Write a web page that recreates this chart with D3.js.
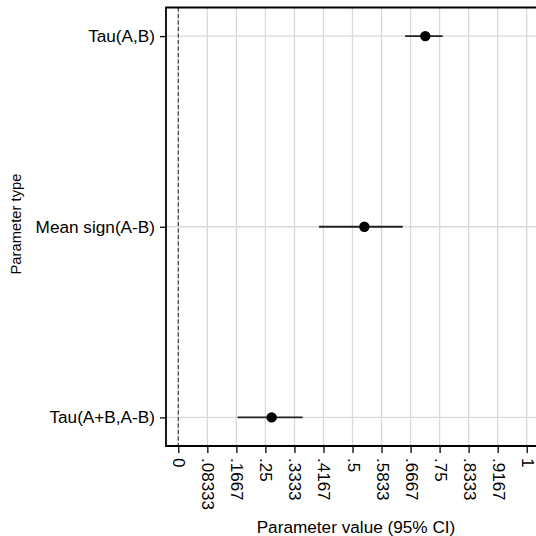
<!DOCTYPE html>
<html>
<head>
<meta charset="utf-8">
<script src="https://cdn.jsdelivr.net/npm/d3@7"></script>
<style>
  html, body { margin: 0; padding: 0; background: #fff; }
  svg { display: block; font-family: "Liberation Sans", Arial, sans-serif; }
</style>
</head>
<body>
<svg id="chart" width="536" height="536"></svg>
<script>
const categories = ["Tau(A,B)", "Mean sign(A-B)", "Tau(A+B,A-B)"];
const estimates = [0.709, 0.534, 0.268];
const lowerCI = [0.651, 0.404, 0.170];
const upperCI = [0.759, 0.644, 0.357];
const xTickValues = [0, 1/12, 2/12, 3/12, 4/12, 5/12, 6/12, 7/12, 8/12, 9/12, 10/12, 11/12, 1];
const xTickLabels = ["0", ".08333", ".1667", ".25", ".3333", ".4167", ".5", ".5833", ".6667", ".75", ".8333", ".9167", "1"];

const svg = d3.select("#chart");
const plot = { left: 166, right: 540, top: 7.5, bottom: 446 };

const x = d3.scaleLinear().domain([0, 1]).range([178.3, 526.7]);
const y = d3.scalePoint().domain(categories).range([plot.top, plot.bottom]).padding(0.15);

// gridlines
svg.append("g").selectAll("line").data(xTickValues).join("line")
  .attr("x1", d => x(d)).attr("x2", d => x(d))
  .attr("y1", plot.top).attr("y2", plot.bottom)
  .attr("stroke", "#d9d9d9").attr("stroke-width", 1.3);
svg.append("g").selectAll("line").data(categories).join("line")
  .attr("x1", plot.left).attr("x2", plot.right)
  .attr("y1", d => y(d)).attr("y2", d => y(d))
  .attr("stroke", "#d9d9d9").attr("stroke-width", 1.3);

// reference line at 0
svg.append("line")
  .attr("x1", x(0)).attr("x2", x(0))
  .attr("y1", plot.top).attr("y2", plot.bottom)
  .attr("stroke", "#333").attr("stroke-width", 1.1)
  .attr("stroke-dasharray", "4,2.5");

// frame (top, left, bottom)
svg.append("path")
  .attr("d", `M${plot.right},${plot.top}H${plot.left}V${plot.bottom}H${plot.right}`)
  .attr("fill", "none").attr("stroke", "#000").attr("stroke-width", 1.8);

// x axis
const xAxis = d3.axisBottom(x).tickValues(xTickValues)
  .tickFormat((d, i) => xTickLabels[i]).tickSize(7).tickPadding(4);
const gx = svg.append("g").attr("transform", `translate(0,${plot.bottom})`).call(xAxis);
gx.select(".domain").remove();
gx.selectAll(".tick line").attr("stroke", "#000").attr("stroke-width", 1.3);
gx.selectAll(".tick text")
  .attr("font-size", 17).attr("fill", "#000")
  .attr("text-anchor", "start")
  .attr("dy", null)
  .attr("dominant-baseline", "central")
  .attr("transform", "translate(0,12) rotate(90)")
  .attr("x", 0).attr("y", 0);

// y axis
const yAxis = d3.axisLeft(y).tickSize(6).tickPadding(5);
const gy = svg.append("g").attr("transform", `translate(${plot.left},0)`).call(yAxis);
gy.select(".domain").remove();
gy.selectAll(".tick line").attr("stroke", "#000").attr("stroke-width", 1.3);
gy.selectAll(".tick text").attr("font-size", 17.2).attr("fill", "#000");

// CI lines
const rows = categories.map((c, i) => ({ c, est: estimates[i], lo: lowerCI[i], hi: upperCI[i] }));
svg.append("g").selectAll("line").data(rows).join("line")
  .attr("x1", d => x(d.lo)).attr("x2", d => x(d.hi))
  .attr("y1", d => y(d.c)).attr("y2", d => y(d.c))
  .attr("stroke", "#222").attr("stroke-width", 1.8);
svg.append("g").selectAll("circle").data(rows).join("circle")
  .attr("cx", d => x(d.est)).attr("cy", d => y(d.c)).attr("r", 5.2)
  .attr("fill", "#000");

// titles
svg.append("text")
  .attr("x", 356).attr("y", 533)
  .attr("text-anchor", "middle").attr("font-size", 17.2).attr("fill", "#000")
  .text("Parameter value (95% CI)");
svg.append("text")
  .attr("transform", "translate(21,224) rotate(-90)")
  .attr("text-anchor", "middle").attr("font-size", 14.8).attr("fill", "#000")
  .text("Parameter type");
</script>
</body>
</html>
